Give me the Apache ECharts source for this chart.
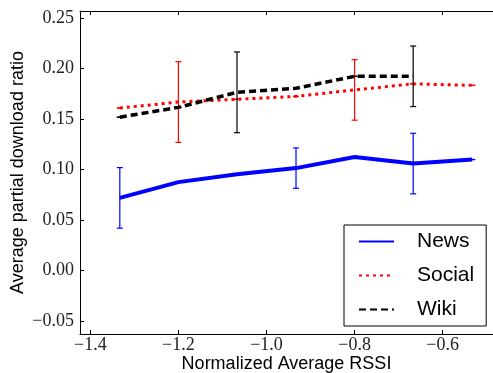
<!DOCTYPE html>
<html><head><meta charset="utf-8">
<script src="https://cdn.jsdelivr.net/npm/echarts@6/dist/echarts.min.js"></script>
<style>html,body{margin:0;padding:0;background:#fff}#c{width:493px;height:373px}</style>
</head><body><div id="c"></div>
<script>
const xValues = [-1.333, -1.2, -1.067, -0.933, -0.8, -0.667, -0.533];
const newsValues = [0.072, 0.0876, 0.0955, 0.1015, 0.1125, 0.106, 0.110];
const newsErrors = [0.030, 0, 0, 0.020, 0, 0.030, 0];
const socialValues = [0.161, 0.167, 0.1697, 0.1726, 0.179, 0.185, 0.1835];
const socialErrors = [0, 0.040, 0, 0, 0.030, 0, 0];
const wikiValues = [0.152, 0.1617, 0.1766, 0.1806, 0.1925, 0.1925];
const wikiErrors = [0, 0, 0.040, 0, 0, 0.030];
const xTicks = [-1.4, -1.2, -1.0, -0.8, -0.6];
const yTicks = [-0.05, 0, 0.05, 0.10, 0.15, 0.20, 0.25];

const SERIF = '"Liberation Serif", "DejaVu Serif", serif';
const SANS = '"Liberation Sans", Arial, sans-serif';
function fmt(v, d) { return (v < -1e-9 ? '\u2212' : '') + Math.abs(v).toFixed(d); }

function lineData(vals) { return vals.map((v, i) => [xValues[i], v]); }
function errSeries(name, vals, errs, color, z) {
  return {
    type: 'custom', name: name + ' err', z: z, silent: true,
    encode: { x: 0, y: [1, 2] },
    data: vals.map((v, i) => [xValues[i], v - errs[i], v + errs[i]]),
    renderItem(params, api) {
      const x = api.value(0);
      const lo = api.coord([x, api.value(1)]);
      const hi = api.coord([x, api.value(2)]);
      const hw = 3;
      const st = { stroke: color, lineWidth: 1.2 };
      return { type: 'group', children: [
        { type: 'line', shape: { x1: lo[0], y1: lo[1], x2: hi[0], y2: hi[1] }, style: st },
        { type: 'line', shape: { x1: lo[0] - hw, y1: lo[1], x2: lo[0] + hw, y2: lo[1] }, style: st },
        { type: 'line', shape: { x1: hi[0] - hw, y1: hi[1], x2: hi[0] + hw, y2: hi[1] }, style: st }
      ] };
    }
  };
}

const chart = echarts.init(document.getElementById('c'), null, { renderer: 'canvas' });
const xMin = -1.4234, xMax = -0.4858;
chart.setOption({
  animation: false,
  backgroundColor: '#fff',
  grid: { left: 80, top: 11, right: 0, bottom: 39, containLabel: false, outerBoundsMode: 'none' },
  xAxis: [{
    type: 'value', min: xMin, max: xMax, position: 'bottom',
    name: 'Normalized Average RSSI', nameLocation: 'middle', nameGap: 21, nameMoveOverlap: false,
    nameTextStyle: { fontFamily: SANS, fontSize: 18, color: '#000', verticalAlign: 'top' },
    axisLine: { show: true, onZero: false, lineStyle: { color: '#000', width: 1 } },
    axisTick: { show: true, inside: true, length: 4, lineStyle: { color: '#000' }, customValues: xTicks },
    axisLabel: { show: true, margin: 2, fontFamily: SERIF, fontSize: 18, color: '#222',
      customValues: xTicks, formatter: v => fmt(v, 1) },
    splitLine: { show: false }
  }, {
    type: 'value', min: xMin, max: xMax, position: 'top',
    axisLine: { show: true, onZero: false, lineStyle: { color: '#000', width: 1 } },
    axisTick: { show: true, inside: true, length: 4, lineStyle: { color: '#000' }, customValues: xTicks },
    axisLabel: { show: false }, splitLine: { show: false }
  }],
  yAxis: {
    type: 'value', min: -0.0629, max: 0.2572,
    name: 'Average partial download ratio', nameLocation: 'middle', nameGap: 53, nameMoveOverlap: false,
    nameTextStyle: { fontFamily: SANS, fontSize: 18, color: '#000' },
    axisLine: { show: true, onZero: false, lineStyle: { color: '#000', width: 1 } },
    axisTick: { show: true, inside: true, length: 4, lineStyle: { color: '#000' }, customValues: yTicks },
    axisLabel: { show: true, margin: 6, fontFamily: SERIF, fontSize: 18, color: '#222',
      customValues: yTicks, formatter: v => fmt(v, 2) },
    splitLine: { show: false }
  },
  legend: {
    orient: 'vertical', left: 344, top: 225,
    padding: [6, 12, 6, 14],
    borderColor: '#000', borderWidth: 1, backgroundColor: '#fff',
    itemWidth: 35, itemHeight: 20, itemGap: 13,
    itemStyle: { opacity: 0 },
    textStyle: { fontFamily: SANS, fontSize: 21, color: '#000', padding: [0, 0, 0, 18] },
    data: ['News', 'Social', 'Wiki']
  },
  series: [
    errSeries('News', newsValues, newsErrors, '#0000ff', 2),
    { type: 'line', name: 'News', data: lineData(newsValues), symbol: 'none', z: 3,
      color: '#0000ff', lineStyle: { color: '#0000ff', width: 4 } },
    errSeries('Social', socialValues, socialErrors, '#ff0000', 4),
    { type: 'line', name: 'Social', data: lineData(socialValues), symbol: 'none', z: 5,
      color: '#ff0000', lineStyle: { color: '#ff0000', width: 3, type: [3, 4] } },
    errSeries('Wiki', wikiValues, wikiErrors, '#000000', 6),
    { type: 'line', name: 'Wiki', data: lineData(wikiValues), symbol: 'none', z: 7,
      color: '#000000', lineStyle: { color: '#000000', width: 3.5, type: [7, 4] } }
  ]
});
</script></body></html>
